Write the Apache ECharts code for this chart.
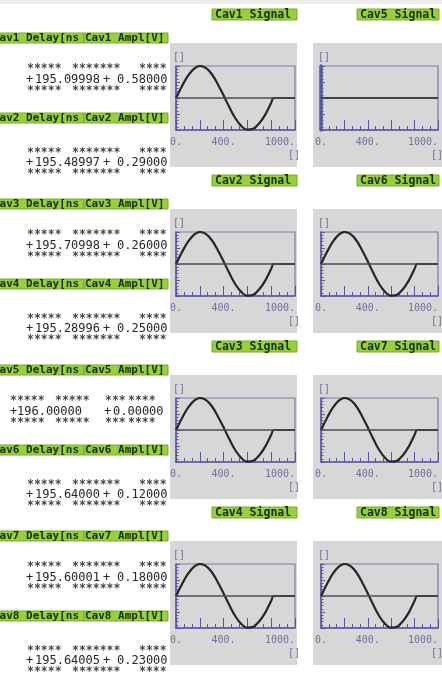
<!DOCTYPE html>
<html>
<head>
<meta charset="utf-8">
<script src="https://cdn.jsdelivr.net/npm/echarts@6/dist/echarts.min.js"></script>
<style>
  html, body { margin: 0; padding: 0; background: #ffffff; }
  #chart { width: 442px; height: 674px; }
</style>
</head>
<body>
<div id="chart"></div>
<script>
// Cavity readbacks
const cavities = ['Cav1', 'Cav2', 'Cav3', 'Cav4', 'Cav5', 'Cav6', 'Cav7', 'Cav8'];
const delayNs = [195.09998, 195.48997, 195.70998, 195.28996, 196.00000, 195.64000, 195.60001, 195.64005];
const amplV = [0.58, 0.29, 0.26, 0.25, 0.00, 0.12, 0.18, 0.23];

// Drive pulse waveform: time samples and shape relative to the amplitude
const waveT = [0, 50, 100, 150, 200, 250, 300, 350, 400, 450, 500, 550, 600, 650, 700, 750, 800, 820, 840, 1000];
const waveShape = [0, 0.37, 0.69, 0.91, 1.0, 0.94, 0.75, 0.44, 0.08, -0.30, -0.64, -0.88, -0.99, -0.96, -0.79, -0.52, -0.15, 0, 0, 0];

// Time axis labels
const xLabelValues = [0, 400, 1000];
const xLabelTexts = ['0.', '400.', '1000.'];

// Style constants
const GREEN = '#98cf3c';
const GREEN_EDGE = '#74ad28';
const GREEN_TEXT = '#1c2e00';
const PANEL = '#d7d7d7';
const AXIS_BLUE = '#5656a6';
const LABEL_GREY = '#70709a';
const MONO = '"DejaVu Sans Mono", "Liberation Mono", monospace';

const grids = [], xAxes = [], yAxes = [], series = [], graphics = [];

graphics.push({ type: 'rect', z: -10, shape: { x: 0, y: 0, width: 442, height: 4 }, style: { fill: '#ececec' } });

// Signal plots: Cav1-4 in the first column, Cav5-8 in the second
cavities.forEach((name, k) => {
  const col = Math.floor(k / 4);
  const row = k % 4;
  const base = 166 * row;
  const left = col === 0 ? 176 : 321;
  const width = col === 0 ? 119 : 117;
  const panelX = col === 0 ? 170 : 313;
  const panelW = col === 0 ? 127 : 129;
  const boxX = col === 0 ? 212 : 357;
  const boxW = col === 0 ? 85 : 82;

  graphics.push({ type: 'rect', z: -10, shape: { x: panelX, y: base + 43, width: panelW, height: 124 }, style: { fill: PANEL } });
  graphics.push({ type: 'rect', z: -5, shape: { x: boxX, y: base + 9, width: boxW, height: 11 }, style: { fill: GREEN, stroke: GREEN_EDGE, lineWidth: 1 } });
  graphics.push({ type: 'text', z: 5, x: boxX + 3, y: base + 15, style: { text: name + ' Signal', font: 'bold 11.5px ' + MONO, fill: GREEN_TEXT, textVerticalAlign: 'middle' } });
  graphics.push({ type: 'text', z: 5, x: left - 3, y: base + 57.5, style: { text: '[]', font: '10px ' + MONO, fill: LABEL_GREY, textVerticalAlign: 'middle' } });
  graphics.push({ type: 'text', z: 5, x: left + width - 7, y: base + 155, style: { text: '[]', font: '10px ' + MONO, fill: LABEL_GREY, textVerticalAlign: 'middle' } });

  const amp = amplV[k];
  const yr = amp > 0 ? amp : 1;

  grids.push({
    left: left, top: 66 + base, width: width, height: 64,
    show: true, backgroundColor: 'transparent', borderColor: '#7c7caa', borderWidth: 1.2
  });
  xAxes.push({
    gridIndex: k, type: 'value', min: 0, max: 1000, interval: 200,
    axisLine: { onZero: false, lineStyle: { color: AXIS_BLUE, width: 1.5 } },
    axisTick: { inside: true, length: 10, lineStyle: { color: AXIS_BLUE } },
    minorTick: { show: true, splitNumber: 3, length: 4, lineStyle: { color: AXIS_BLUE } },
    splitLine: { show: false },
    axisLabel: {
      margin: 7, color: LABEL_GREY, fontFamily: MONO, fontSize: 10,
      showMinLabel: true, showMaxLabel: true, alignMaxLabel: 'right', hideOverlap: false,
      formatter: v => { const i = xLabelValues.indexOf(v); return i < 0 ? '' : xLabelTexts[i]; }
    }
  });
  yAxes.push({
    gridIndex: k, type: 'value', min: -yr, max: yr, interval: yr / 2,
    axisLine: { show: true, onZero: false, lineStyle: { color: AXIS_BLUE, width: amp > 0 ? 1.5 : 3.5 } },
    axisTick: { show: true, inside: true, length: 4, lineStyle: { color: AXIS_BLUE } },
    minorTick: { show: true, splitNumber: 5, length: 2.5, lineStyle: { color: AXIS_BLUE } },
    axisLabel: { show: false },
    splitLine: { show: false }
  });
  series.push({
    type: 'line', xAxisIndex: k, yAxisIndex: k,
    data: waveT.map((t, j) => [t, waveShape[j] * amp]),
    showSymbol: false, smooth: 0.35,
    lineStyle: { color: '#262626', width: 2.2 },
    markLine: {
      silent: true, symbol: ['none', 'none'], label: { show: false },
      lineStyle: { color: '#4c4c58', width: 1.5, type: 'solid' },
      data: [{ yAxis: 0 }]
    },
    z: 3
  });
});

// Delay / amplitude readouts on the left
cavities.forEach((name, k) => {
  const row = Math.floor(k / 2);
  const first = k % 2 === 0;
  const base = 166 * row;
  const hy = base + (first ? 33 : 113);
  const starTop = base + (first ? 69 : 153);
  const valY = base + (first ? 79.5 : 163);
  const starBot = base + (first ? 91 : 174);
  const shifted = name === 'Cav5';

  graphics.push({ type: 'rect', z: -5, shape: { x: -1, y: hy, width: 85, height: 10 }, style: { fill: GREEN, stroke: GREEN_EDGE, lineWidth: 1 } });
  graphics.push({ type: 'rect', z: -5, shape: { x: 84, y: hy, width: 84, height: 10 }, style: { fill: GREEN, stroke: GREEN_EDGE, lineWidth: 1 } });
  graphics.push({ type: 'text', z: 5, x: -7, y: hy + 5, style: { text: name + ' Delay[ns', font: 'bold 11px ' + MONO, fill: GREEN_TEXT, textVerticalAlign: 'middle' } });
  graphics.push({ type: 'text', z: 5, x: 85, y: hy + 5, style: { text: name + ' Ampl[V]', font: 'bold 11px ' + MONO, fill: GREEN_TEXT, textVerticalAlign: 'middle' } });

  const starGroups = shifted
    ? [[10, '*****'], [55, '*****'], [105, '***'], [128, '****']]
    : [[27, '*****'], [72, '*******'], [139, '****']];
  [starTop, starBot].forEach(sy => {
    starGroups.forEach(([sx, s]) => {
      graphics.push({ type: 'text', z: 5, x: sx, y: sy, style: { text: s, font: 'bold 11.5px ' + MONO, fill: '#444444', textVerticalAlign: 'middle' } });
    });
  });

  const valFont = '12px ' + MONO;
  const pieces = shifted
    ? [[10, '+'], [17, delayNs[k].toFixed(5)], [104, '+'], [113, amplV[k].toFixed(5)]]
    : [[26, '+'], [35, delayNs[k].toFixed(5)], [103, '+'], [117, amplV[k].toFixed(5)]];
  pieces.forEach(([px, s]) => {
    graphics.push({ type: 'text', z: 5, x: px, y: valY, style: { text: s, font: valFont, fill: '#262626', textVerticalAlign: 'middle' } });
  });
});

const chart = echarts.init(document.getElementById('chart'), null, { renderer: 'canvas' });
chart.setOption({
  animation: false,
  backgroundColor: '#ffffff',
  grid: grids,
  xAxis: xAxes,
  yAxis: yAxes,
  series: series,
  graphic: graphics
});
</script>
</body>
</html>
